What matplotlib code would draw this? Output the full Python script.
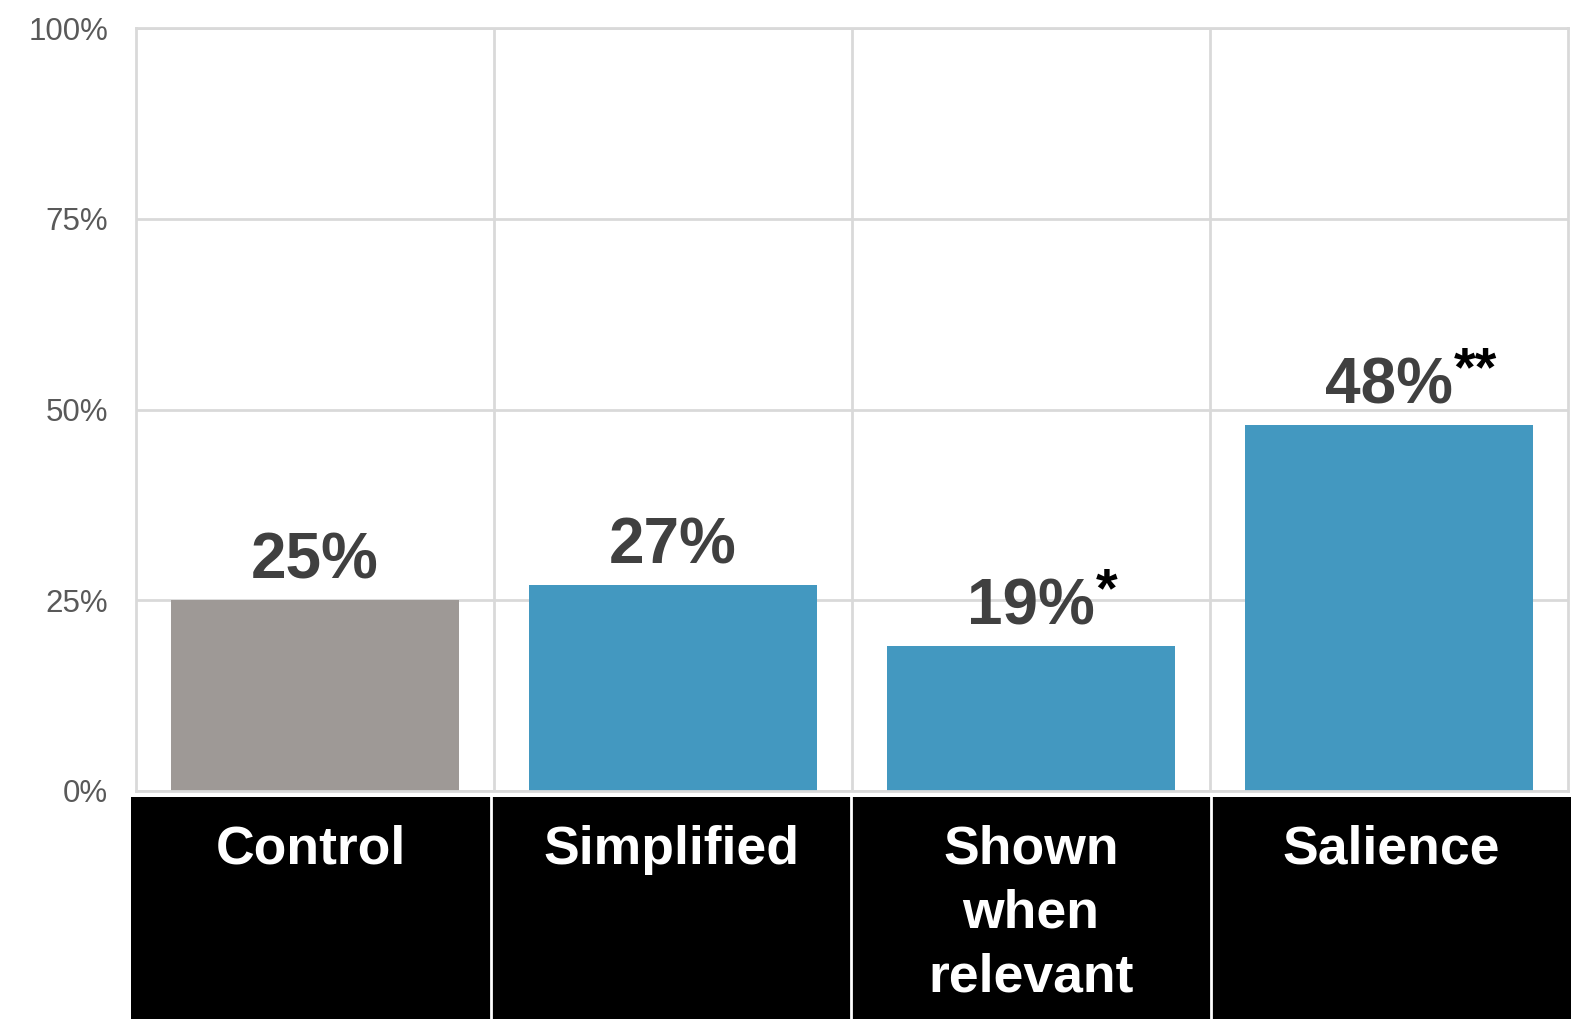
import matplotlib.pyplot as plt

plt.rcParams['font.family'] = ['Liberation Sans', 'DejaVu Sans']

categories = ['Control', 'Simplified', 'Shown\nwhen\nrelevant', 'Salience']
values = [25, 27, 19, 48]
stars = ['', '', '*', '**']
colors = ['#9e9996', '#4398c0', '#4398c0', '#4398c0']
yticks = [0, 25, 50, 75, 100]

W, H = 1571, 1019
fig = plt.figure(figsize=(W / 100, H / 100), dpi=100)

# main bar area
ax = fig.add_axes([136 / W, 1 - 791 / H, (1568 - 136) / W, (791 - 28) / H])
x = range(len(values))
ax.bar(x, values, width=0.807, color=colors, zorder=2)
ax.set_xlim(-0.5, len(values) - 0.5)
ax.set_ylim(0, 100)
ax.set_yticks(yticks)
ax.set_yticklabels([f'{v}%' for v in yticks], fontsize=22.5, color='#595959')
ax.tick_params(axis='y', length=0, pad=20)
ax.tick_params(axis='x', length=0, labelbottom=False)
ax.set_xticks([i + 0.5 for i in range(len(values) - 1)])
ax.grid(True, color='#d9d9d9', linewidth=2, zorder=0)
for sp in ax.spines.values():
    sp.set_color('#d9d9d9')
    sp.set_linewidth(2)

for i, (v, s) in enumerate(zip(values, stars)):
    t = ax.annotate(f'{v}%', xy=(i, v), xytext=(0, 6), textcoords='offset points',
                    ha='center', va='bottom', fontsize=46, fontweight='bold', color='#404040')
    if s:
        ax.annotate(s, xy=(1, 1), xycoords=t, xytext=(1, 8), textcoords='offset points',
                    ha='left', va='top', fontsize=40, fontweight='bold', color='black')

# black label strip
lab = fig.add_axes([131 / W, 0, (W - 131) / W, (H - 797) / H])
lab.set_facecolor('black')
lab.set_xlim(0, len(categories))
lab.set_ylim(0, 1)
for b in range(1, len(categories)):
    lab.axvline(b, color='white', linewidth=2)
for i, c in enumerate(categories):
    lab.text(i + 0.5, 0.875, c, ha='center', va='top', fontsize=38.5, fontweight='bold',
             color='white', linespacing=1.35)
lab.set_xticks([])
lab.set_yticks([])
for sp in lab.spines.values():
    sp.set_visible(False)

fig.savefig('out.png', dpi=100, facecolor='white')
